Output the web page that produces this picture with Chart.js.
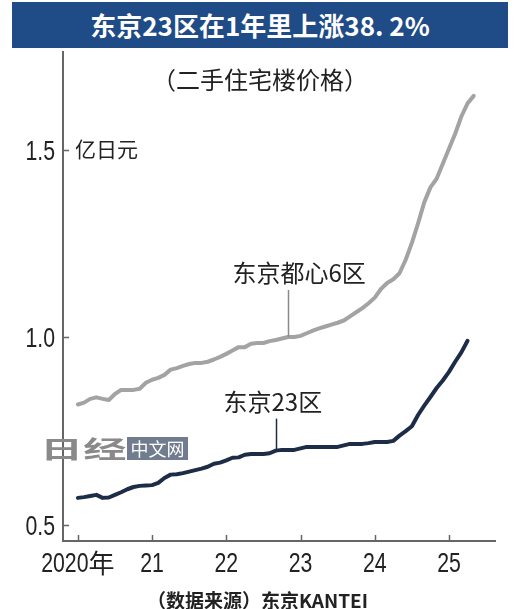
<!DOCTYPE html>
<html>
<head>
<meta charset="utf-8">
<script src="https://cdn.jsdelivr.net/npm/chart.js@4.4.1/dist/chart.umd.min.js"></script>
<style>
  body { margin: 0; background: #fff; }
  #wrap { position: relative; width: 515px; height: 609px; overflow: hidden; font-family: "Noto Sans CJK SC", sans-serif; }
  #titlebar { position: absolute; left: 12px; top: 2px; width: 496px; height: 46px; background: #1f4b87; color: #fff;
    font-weight: bold; font-size: 26px; line-height: 46px; text-align: center; }
  #subtitle { position: absolute; left: 0; width: 520px; top: 66px; font-size: 24px; line-height: 26px; text-align: center; color: #222; }
  #source { position: absolute; left: 0; width: 515px; top: 589px; font-size: 19px; line-height: 21px; font-weight: bold; text-align: center; color: #222; }
  canvas { position: absolute; left: 0; top: 0; }
</style>
</head>
<body>
<div id="wrap">
  <canvas id="chart" width="515" height="609"></canvas>
  <div id="titlebar">东京23区在1年里上涨38. 2%</div>
  <div id="subtitle">（二手住宅楼价格）</div>
  <div id="source">（数据来源）东京KANTEI</div>
</div>
<script>
// monthly, from Jan 2020
const months = [];
for (let i = 0; i < 65; i++) {
  months.push((2020 + Math.floor(i / 12)) + '-' + String(i % 12 + 1).padStart(2, '0'));
}

// 东京都心6区, 亿日元 (Jan 2020 - May 2025)
const central6 = [
  0.820, 0.825, 0.835, 0.839, 0.835, 0.832, 0.848, 0.859, 0.859, 0.859, 0.862, 0.878,
  0.886, 0.891, 0.899, 0.913, 0.917, 0.923, 0.928, 0.931, 0.931, 0.934, 0.940, 0.947,
  0.955, 0.964, 0.973, 0.973, 0.982, 0.984, 0.984, 0.989, 0.992, 0.996, 1.000, 1.000,
  1.003, 1.010, 1.017, 1.023, 1.028, 1.033, 1.038, 1.044, 1.055, 1.066, 1.077, 1.090,
  1.105, 1.128, 1.144, 1.154, 1.170, 1.206, 1.251, 1.303, 1.359, 1.399, 1.422, 1.462,
  1.502, 1.542, 1.588, 1.623, 1.643
];

// 东京23区, 亿日元 (Jan 2020 - Apr 2025)
const tokyo23 = [
  0.571, 0.573, 0.576, 0.579, 0.571, 0.572, 0.579, 0.586, 0.594, 0.600, 0.603, 0.604,
  0.605, 0.611, 0.624, 0.633, 0.634, 0.637, 0.641, 0.645, 0.649, 0.654, 0.662, 0.665,
  0.671, 0.678, 0.679, 0.686, 0.688, 0.688, 0.688, 0.690, 0.697, 0.699, 0.699, 0.699,
  0.703, 0.707, 0.707, 0.707, 0.707, 0.707, 0.707, 0.711, 0.715, 0.715, 0.715, 0.717,
  0.720, 0.720, 0.720, 0.723, 0.737, 0.749, 0.762, 0.792, 0.817, 0.840, 0.864, 0.884,
  0.907, 0.934, 0.959, 0.990
];

const yearTicks = [2020, 2021, 2022, 2023, 2024, 2025];
const yearLabels = ['2020年', '21', '22', '23', '24', '25'];
const valueTicks = [0.5, 1.0, 1.5];

const seriesNames = ['东京都心6区', '东京23区'];
const seriesColors = ['#a3a3a3', '#1d2c47'];
const leaderIndex = [34, 32];   // month where each label's leader line meets its curve

function toX(m) {
  const [y, mo] = m.split('-').map(Number);
  return y + (mo - 1) / 12;
}

const axisColor = '#666';
const numFont = "28px 'Liberation Sans', Arial, sans-serif";
const cjkFont = "26px 'Noto Sans CJK SC', sans-serif";
const squeeze = 0.76;

// tick label text in a narrow face, like the printed chart
function narrowText(ctx, text, x, y) {
  ctx.save();
  ctx.translate(x, y);
  ctx.scale(squeeze, 1);
  ctx.fillText(text, 0, 0);
  ctx.restore();
}

const extras = {
  id: 'extras',
  afterDraw(chart) {
    const ctx = chart.ctx;
    const xs = chart.scales.x, ys = chart.scales.y;
    const area = chart.chartArea;
    ctx.save();

    // inward tick marks
    ctx.strokeStyle = axisColor;
    ctx.lineWidth = 1.5;
    ctx.beginPath();
    yearTicks.forEach(t => {
      const px = Math.round(xs.getPixelForValue(t)) + 0.5;
      ctx.moveTo(px, area.bottom);
      ctx.lineTo(px, area.bottom - 6);
    });
    valueTicks.forEach(t => {
      const py = Math.round(ys.getPixelForValue(t)) + 0.5;
      ctx.moveTo(area.left, py);
      ctx.lineTo(area.left + 6, py);
    });
    ctx.stroke();

    // tick labels
    ctx.fillStyle = '#222';
    ctx.textBaseline = 'alphabetic';
    ctx.textAlign = 'left';
    yearTicks.forEach((t, i) => {
      const lab = yearLabels[i];
      const num = lab.replace(/[^0-9.]/g, '');
      const suffix = lab.slice(num.length);
      ctx.font = numFont;
      const wNum = ctx.measureText(num).width * squeeze;
      ctx.font = cjkFont;
      const wSuf = suffix ? ctx.measureText(suffix).width : 0;
      const x0 = xs.getPixelForValue(t) - (wNum + wSuf) / 2;
      const base = area.bottom + 31;
      ctx.font = numFont;
      narrowText(ctx, num, x0, base);
      if (suffix) {
        ctx.font = cjkFont;
        ctx.fillText(suffix, x0 + wNum, base + 1);
      }
    });
    ctx.font = numFont;
    valueTicks.forEach(t => {
      const s = t.toFixed(1);
      const w = ctx.measureText(s).width * squeeze;
      narrowText(ctx, s, area.left - 8 - w, ys.getPixelForValue(t) + 10);
    });

    // unit
    ctx.fillStyle = '#222';
    ctx.font = "21px 'Noto Sans CJK SC', sans-serif";
    ctx.textBaseline = 'middle';
    ctx.fillText('亿日元', area.left + 12, ys.getPixelForValue(1.5));

    // series labels with leader lines
    const data = [central6, tokyo23];
    const gaps = [[47, 64, 56], [32, 49, 53]]; // leader length, text offset up, text offset left
    data.forEach((vals, k) => {
      const i = leaderIndex[k];
      const px = Math.round(xs.getPixelForValue(toX(months[i]))) + 0.5;
      const py = ys.getPixelForValue(vals[i]);
      ctx.strokeStyle = k === 0 ? '#8a8a8a' : seriesColors[1];
      ctx.lineWidth = 1.5;
      ctx.beginPath();
      ctx.moveTo(px, py);
      ctx.lineTo(px, py - gaps[k][0]);
      ctx.stroke();
      ctx.fillStyle = '#222';
      ctx.font = "24px 'Noto Sans CJK SC', sans-serif";
      ctx.fillText(seriesNames[k], px - gaps[k][2], py - gaps[k][1]);
    });

    // watermark
    ctx.save();
    ctx.translate(40, 449);
    ctx.scale(1.8, 1);
    ctx.fillStyle = '#8a8a8a';
    ctx.font = "bold 24px 'Noto Sans CJK SC', sans-serif";
    ctx.fillText('日经', 0, 0);
    ctx.restore();
    ctx.fillStyle = '#717d8e';
    ctx.fillRect(127, 437, 61, 23);
    ctx.fillStyle = '#fff';
    ctx.font = "18px 'Noto Sans CJK SC', sans-serif";
    ctx.textAlign = 'center';
    ctx.fillText('中文网', 157.5, 449);

    ctx.restore();
  }
};

new Chart(document.getElementById('chart'), {
  type: 'line',
  data: {
    datasets: [
      {
        label: seriesNames[0],
        data: central6.map((v, i) => ({ x: toX(months[i]), y: v })),
        borderColor: seriesColors[0],
        borderWidth: 4
      },
      {
        label: seriesNames[1],
        data: tokyo23.map((v, i) => ({ x: toX(months[i]), y: v })),
        borderColor: seriesColors[1],
        borderWidth: 4
      }
    ]
  },
  options: {
    responsive: false,
    animation: false,
    layout: { padding: { top: 52, right: 20, left: 0, bottom: 0 } },
    elements: {
      point: { radius: 0 },
      line: { tension: 0, borderJoinStyle: 'round', borderCapStyle: 'round' }
    },
    plugins: { legend: { display: false }, tooltip: { enabled: false } },
    scales: {
      x: {
        type: 'linear',
        min: 2019.8,
        max: 2025.62,
        afterBuildTicks: s => { s.ticks = yearTicks.map(v => ({ value: v })); },
        afterFit: s => { s.height = 68; },
        ticks: { display: false },
        grid: { display: false },
        border: { display: true, color: axisColor, width: 2 }
      },
      y: {
        min: 0.456,
        max: 1.76,
        afterBuildTicks: s => { s.ticks = valueTicks.map(v => ({ value: v })); },
        afterFit: s => { s.width = 63; },
        ticks: { display: false },
        grid: { display: false },
        border: { display: true, color: axisColor, width: 2 }
      }
    }
  },
  plugins: [extras]
});
</script>
</body>
</html>
